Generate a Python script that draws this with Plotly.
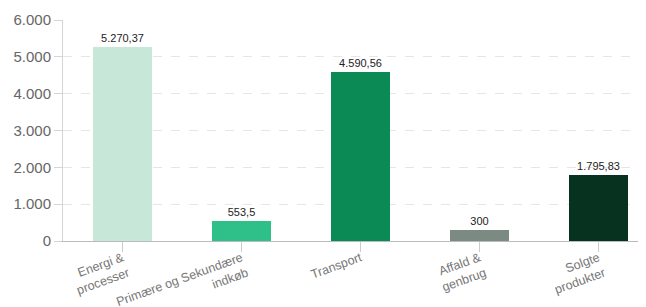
import plotly.graph_objects as go

categories = ["Energi &<br>processer", "Primære og Sekundære<br>indkøb", "Transport", "Affald &<br>genbrug", "Solgte<br>produkter"]
values = [5270.37, 553.5, 4590.56, 300, 1795.83]
colors = ["#c7e7d9", "#2fc089", "#0b8a56", "#7b8b83", "#07321f"]
y_ticks = [0, 1000, 2000, 3000, 4000, 5000, 6000]

fig = go.Figure(go.Bar(
    x=list(range(len(categories))), y=values,
    marker=dict(color=colors, line=dict(width=0)),
    width=0.5,
    texttemplate="%{y:,}", textposition="outside",
    textfont=dict(size=11, color="#222", family="Liberation Sans, Arial"),
    cliponaxis=False,
))

# page body has an 8px margin, so the figure is sized to fit the 646x307 window
fig.update_layout(
    width=638, height=299,
    margin=dict(l=55, r=0, t=12, b=66, autoexpand=False),
    paper_bgcolor="white", plot_bgcolor="white",
    separators=",.",
    font=dict(family="Liberation Sans, Arial", color="#666"),
    showlegend=False,
    bargap=0,
)
fig.update_yaxes(
    range=[0, 6000], tickvals=y_ticks, tickformat=",",
    tickfont=dict(size=15, color="#666"),
    showgrid=True, gridcolor="#e6e6e6", griddash="dash", gridwidth=1,
    showline=True, linecolor="#d4d4d4", linewidth=1,
    ticks="outside", ticklen=8, tickcolor="#d4d4d4",
    zeroline=False, automargin=False,
)
fig.update_xaxes(
    range=[-0.5, 4.4],
    tickvals=list(range(len(categories))), ticktext=categories,
    tickangle=-20, tickfont=dict(size=12.5, color="#777"),
    showline=True, linecolor="#bbbbbb", linewidth=1,
    ticks="outside", ticklen=10, tickcolor="#cccccc", tickwidth=1, tickson="boundaries",
    ticklabelstandoff=-6,
    showgrid=False, automargin=False,
)

fig.write_html("out.html")
